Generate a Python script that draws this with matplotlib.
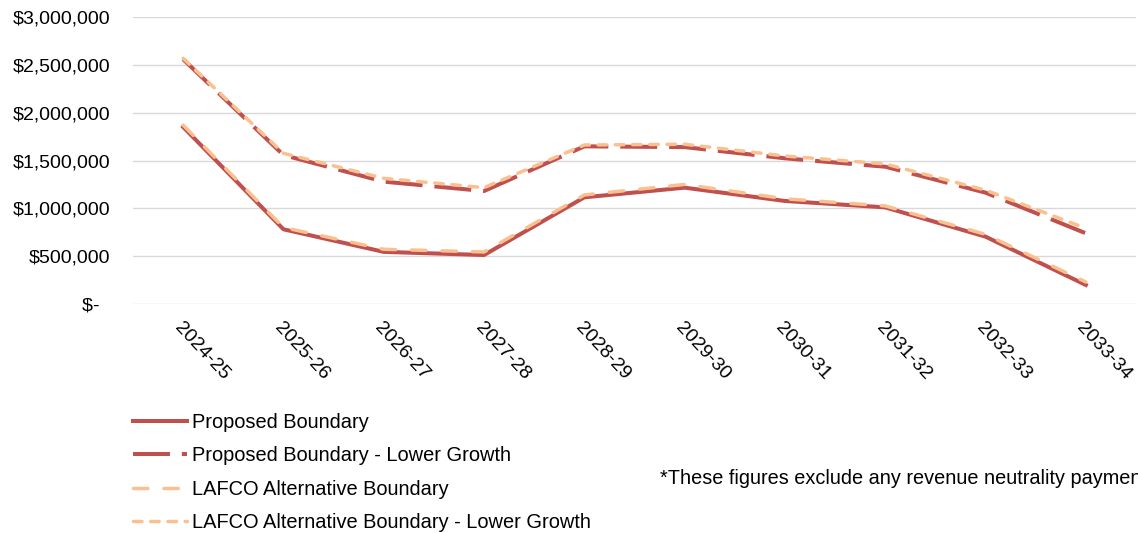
import matplotlib.pyplot as plt
import numpy as np

plt.rcParams['font.family'] = ['Liberation Sans', 'DejaVu Sans']
plt.rcParams['lines.scale_dashes'] = False

# data
years = ['2024-25', '2025-26', '2026-27', '2027-28', '2028-29',
         '2029-30', '2030-31', '2031-32', '2032-33', '2033-34']
proposed = [1850000, 781000, 545000, 512000, 1115000,
            1216000, 1077000, 1010000, 704000, 199000]
proposed_lower = [2558000, 1557000, 1279000, 1181000, 1648000,
                  1640000, 1523000, 1435000, 1164000, 739000]
lafco = [1870000, 800000, 572000, 544000, 1140000,
         1250000, 1100000, 1025000, 728000, 230000]
lafco_lower = [2568000, 1575000, 1314000, 1216000, 1662000,
               1670000, 1547000, 1464000, 1190000, 791000]
labels = ['Proposed Boundary', 'Proposed Boundary - Lower Growth',
          'LAFCO Alternative Boundary', 'LAFCO Alternative Boundary - Lower Growth']
note = '*These figures exclude any revenue neutrality payments.'

red = '#C0504D'
peach = '#FAC090'
W, H = 1138, 533

fig = plt.figure(figsize=(W / 100, H / 100), dpi=100)
ax = fig.add_axes([133 / W, 1 - 304 / H, (1136 - 133) / W, 287 / H])

x = np.arange(len(years))
ax.plot(x, proposed, color=red, lw=2.9, label=labels[0])
ax.plot(x, proposed_lower, color=red, lw=2.9, dashes=(26.6, 8.6),
        dash_capstyle='butt', label=labels[1])
ax.plot(x, lafco, color=peach, lw=2.5, dashes=(10.4, 11.5),
        dash_capstyle='round', label=labels[2])
ax.plot(x, lafco_lower, color=peach, lw=2.5, dashes=(6.1, 6.3),
        dash_capstyle='round', label=labels[3])

ax.set_xlim(-0.5, len(years) - 0.5)
ax.set_ylim(0, 3000000)
yt = np.arange(0, 3000001, 500000)
ax.set_yticks(yt)
ax.set_yticklabels(['$-  ' if v == 0 else '${:,.0f}'.format(v) for v in yt],
                   fontsize=14)
ax.set_xticks(x)
ax.set_xticklabels(years, fontsize=14, rotation=-47, ha='left', va='top',
                   rotation_mode='anchor')
ax.tick_params(axis='y', length=0, pad=16.5)
ax.tick_params(axis='x', length=0, pad=11)

ax.yaxis.grid(True, color='#D9D9D9', lw=1.0)
ax.set_axisbelow(True)
for s in ax.spines.values():
    s.set_visible(False)

fig.legend(loc='upper left', bbox_to_anchor=(133 / W, 1 - 413 / H),
           frameon=False, fontsize=14.4, handlelength=2.7, handletextpad=0.25,
           labelspacing=0.72, borderpad=0, borderaxespad=0)

# footnote runs off the right edge, as in the source image
fig.text(660 / W, 1 - 478 / H, note, fontsize=14.3, va='center', ha='left')

fig.savefig('out.png', dpi=100)
